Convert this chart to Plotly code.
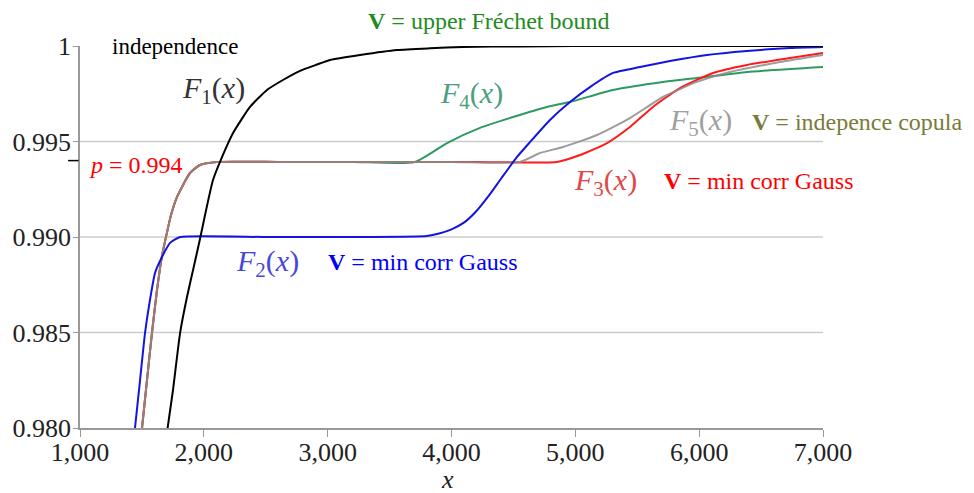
import plotly.graph_objects as go

# ---- data ----
x_f1 = [1690, 1751, 1808, 1864, 1913, 1969, 2074, 2171, 2236, 2373, 2510, 2639, 2777, 2914, 3019, 3261, 3560, 3826, 4093, 4553, 4981, 7000]
y_f1 = [0.9792, 0.98199, 0.98497, 0.98686, 0.98827, 0.98990, 0.99298, 0.99455, 0.99545, 0.99681, 0.99770, 0.99822, 0.99870, 0.99903, 0.99927, 0.99953, 0.99979, 0.99988, 0.99995, 0.99998, 1.0, 1.0]

x_f2 = [1436, 1485, 1525, 1565, 1606, 1662, 1727, 1808, 2500, 3300, 3802, 3900, 4000, 4100, 4200, 4300, 4400, 4529, 4634, 4795, 4957, 5118, 5304, 5522, 5764, 6063, 6386, 6734, 7000]
y_f2 = [0.9795, 0.98251, 0.98497, 0.98670, 0.98812, 0.98895, 0.98969, 0.9900, 0.9900, 0.9900, 0.99005, 0.99018, 0.99040, 0.99075, 0.99135, 0.99215, 0.99305, 0.99419, 0.99497, 0.99613, 0.99707, 0.99785, 0.99859, 0.99890, 0.99921, 0.99953, 0.99974, 0.99990, 0.99995]

x_early = [1493, 1541, 1581, 1622, 1662, 1735, 1783, 1888, 1969, 2106, 2600, 3200]
y_early = [0.9795, 0.98251, 0.98497, 0.98723, 0.98900, 0.99115, 0.99209, 0.99335, 0.99377, 0.99393, 0.99393, 0.99393]

x_f3 = x_early + [4200, 4852, 5038, 5256, 5441, 5627, 5845, 6112, 6386, 6734, 7000]
y_f3 = y_early + [0.99393, 0.99393, 0.99429, 0.99492, 0.99576, 0.99681, 0.99780, 0.99859, 0.99901, 0.99937, 0.99963]

x_f4 = x_early + [3705, 3964, 4230, 4497, 4771, 4957, 5304, 5708, 5982, 6386, 7000]
y_f4 = y_early + [0.99393, 0.99492, 0.99571, 0.99628, 0.99681, 0.99707, 0.99770, 0.99812, 0.99832, 0.99864, 0.99890]

x_f5 = x_early + [4000, 4553, 4715, 4900, 5175, 5441, 5708, 5982, 6249, 6653, 7000]
y_f5 = y_early + [0.99393, 0.99393, 0.99440, 0.99471, 0.99534, 0.99623, 0.99733, 0.99812, 0.99864, 0.99916, 0.99953]

p_level = 0.994
x_ticks = [1000, 2000, 3000, 4000, 5000, 6000, 7000]
x_ticktext = ["1,000", "2,000", "3,000", "4,000", "5,000", "6,000", "7,000"]
y_ticks = [0.980, 0.985, 0.990, 0.995, 1.0]
y_ticktext = ["0.980", "0.985", "0.990", "0.995", "1"]
grid_vals = [0.985, 0.990, 0.995]

SERIF = "Liberation Serif, Times New Roman, serif"

fig = go.Figure()
LS = dict(shape="spline", smoothing=0.5, width=2)
fig.add_trace(go.Scatter(x=x_f4, y=y_f4, mode="lines", line=dict(color="#2e9a60", **LS)))
fig.add_trace(go.Scatter(x=x_f3, y=y_f3, mode="lines", line=dict(color="#ff1a1a", **LS)))
fig.add_trace(go.Scatter(x=x_f5, y=y_f5, mode="lines", line=dict(color="#8c8c8c", **LS), opacity=0.85))
fig.add_trace(go.Scatter(x=x_f2, y=y_f2, mode="lines", line=dict(color="#1414e0", **LS)))
fig.add_trace(go.Scatter(x=x_f1, y=y_f1, mode="lines", line=dict(color="#000000", **LS)))

shapes = []
for g in grid_vals:
    shapes.append(dict(type="line", xref="paper", yref="y", x0=0, x1=1, y0=g, y1=g,
                       line=dict(color="#cccccc", width=1.5), layer="below"))
shapes.append(dict(type="line", xref="paper", yref="y", x0=-0.016, x1=-0.002, y0=p_level, y1=p_level,
                   line=dict(color="#000000", width=1.5)))

def ann(text, x, y, color, size=24, ref="data"):
    xr, yr = ("x", "y") if ref == "data" else ("paper", "paper")
    return dict(text=text, x=x, y=y, xref=xr, yref=yr, showarrow=False,
                xanchor="center", yanchor="middle", font=dict(family=SERIF, size=size, color=color))

annotations = [
    ann("independence", 1767, 0.99995, "#000000", 23),
    ann("<i>F</i><sub>1</sub>(<i>x</i>)", 2082, 0.99770, "#333333", 30),
    ann("<b>V</b> = upper Fréchet bound", 0.5505, 1.066, "#1e8c1e", 24, ref="paper"),
    ann("<i>F</i><sub>4</sub>(<i>x</i>)", 4165, 0.99743, "#4aa080", 30),
    ann("<i>F</i><sub>5</sub>(<i>x</i>)", 6007, 0.99602, "#a0a0a0", 30),
    ann("<b>V</b> = indepence copula", 1.0458, 0.801, "#7a7a3a", 24, ref="paper"),
    ann("<i>F</i><sub>3</sub>(<i>x</i>)", 5240, 0.99288, "#e04848", 30),
    ann("<b>V</b> = min corr Gauss", 6483, 0.99293, "#ff0000"),
    ann("<i>F</i><sub>2</sub>(<i>x</i>)", 2518, 0.98864, "#4848d8", 30),
    ann("<b>V</b> = min corr Gauss", 3770, 0.98869, "#0000ff"),
    ann("<i>p</i> = " + f"{p_level:.3f}", 1452, 0.99377, "#ff0000", 24),
    ann("<i>x</i>", 0.494, -0.135, "#222222", 26, ref="paper"),
]

# the page body adds an 8px offset; compensate so the plot sits where the reference's does
fig.update_layout(
    width=966, height=485,
    margin=dict(l=72, r=151, t=38, b=65, pad=0),
    paper_bgcolor="white", plot_bgcolor="white",
    showlegend=False,
    shapes=shapes, annotations=annotations,
    font=dict(family=SERIF, size=26, color="#222222"),
)
fig.update_xaxes(range=[1000, 7000], tickvals=x_ticks, ticktext=x_ticktext, showgrid=False,
                 showline=True, linecolor="#999999", linewidth=1.5, ticks="outside", ticklen=7,
                 tickcolor="#999999", zeroline=False, automargin=False, ticklabelstandoff=-7,
                 tickfont=dict(family=SERIF, size=26, color="#222222"))
fig.update_yaxes(range=[0.980, 1.0], tickvals=y_ticks, ticktext=y_ticktext, showgrid=False,
                 showline=True, linecolor="#999999", linewidth=1.5, ticks="outside", ticklen=5,
                 tickcolor="#999999", zeroline=False, automargin=False, ticklabelstandoff=-3,
                 tickfont=dict(family=SERIF, size=26, color="#222222"))

fig.write_html("out.html")
